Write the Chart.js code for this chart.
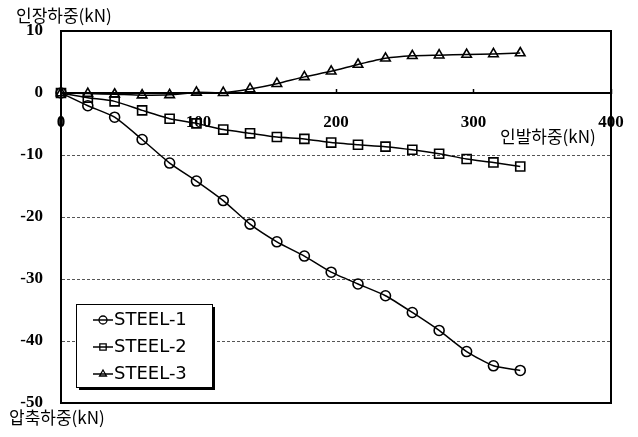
<!DOCTYPE html>
<html>
<head>
<meta charset="utf-8">
<script src="https://cdn.jsdelivr.net/npm/chart.js@4.4.1/dist/chart.umd.min.js"></script>
<style>
  html, body { margin: 0; padding: 0; background: #fff; }
  #wrap { width: 638px; height: 437px; }
</style>
</head>
<body>
<div id="wrap"><canvas id="chart" width="638" height="437"></canvas></div>
<script>
// Data
var loadKN = [0, 19.5, 39, 59, 79, 98.5, 118, 137.5, 157, 177, 196.5, 216, 236, 255.5, 275, 295, 314.5, 334];
var steel1 = [0, -2.05, -3.9, -7.5, -11.3, -14.2, -17.35, -21.15, -24.0, -26.3, -28.9, -30.8, -32.7, -35.4, -38.3, -41.7, -44.0, -44.75];
var steel2 = [0, -0.75, -1.35, -2.8, -4.15, -4.9, -5.9, -6.5, -7.1, -7.4, -8.0, -8.35, -8.65, -9.15, -9.8, -10.65, -11.2, -11.85];
var steel3 = [0, -0.1, -0.2, -0.35, -0.3, 0.1, 0.05, 0.65, 1.5, 2.6, 3.5, 4.6, 5.6, 6.0, 6.1, 6.2, 6.3, 6.45];
var seriesNames = ['STEEL-1', 'STEEL-2', 'STEEL-3'];
var xTicks = [0, 100, 200, 300, 400];
var yTicks = [10, 0, -10, -20, -30, -40, -50];
var xTitle = '인발하중(kN)';
var yTopTitle = '인장하중(kN)';
var yBottomTitle = '압축하중(kN)';

var tickFont = { family: '"Liberation Serif", "Times New Roman", serif', size: 17, weight: 'bold' };

function toPoints(ys) {
    return ys.map(function (v, i) { return { x: loadKN[i], y: v }; });
}

function makeSet(name, ys, style, radius) {
    return {
        label: name,
        data: toPoints(ys),
        showLine: true,
        borderColor: '#000',
        borderWidth: 1.5,
        tension: 0.2,
        pointStyle: style,
        pointRadius: radius,
        pointBorderWidth: 1.6,
        pointBorderColor: '#000',
        pointBackgroundColor: 'rgba(0,0,0,0)',
        clip: false
    };
}

// frame, axis titles and boxed legend
var decor = {
    id: 'decor',
    afterDraw: function (chart) {
        var ctx = chart.ctx, a = chart.chartArea;
        ctx.save();
        ctx.strokeStyle = '#000';
        ctx.lineWidth = 2;
        ctx.strokeRect(a.left, a.top, a.right - a.left, a.bottom - a.top);

        ctx.fillStyle = '#000';
        ctx.textAlign = 'left';
        ctx.textBaseline = 'middle';
        ctx.font = '17px "Noto Sans CJK KR"';
        ctx.fillText(yTopTitle, 16, 16);
        ctx.fillText(yBottomTitle, 9, 418);
        ctx.fillText(xTitle, 500, 137);

        var lx = 76, ly = 304, lw = 136, lh = 83;
        ctx.fillRect(lx + 3, ly + 3, lw, lh);
        ctx.fillStyle = '#fff';
        ctx.fillRect(lx, ly, lw, lh);
        ctx.lineWidth = 1;
        ctx.strokeRect(lx + 0.5, ly + 0.5, lw, lh);

        ctx.font = '18px "DejaVu Sans"';
        chart.data.datasets.forEach(function (ds, i) {
            var y = ly + 16 + i * 27;
            ctx.strokeStyle = '#000';
            ctx.lineWidth = 1.5;
            ctx.beginPath();
            ctx.moveTo(lx + 17, y);
            ctx.lineTo(lx + 37, y);
            ctx.stroke();
            ctx.fillStyle = 'rgba(0,0,0,0)';
            ctx.lineWidth = 1.3;
            Chart.helpers.drawPoint(ctx, { pointStyle: ds.pointStyle, radius: ds.pointStyle === 'rect' ? 4.5 : 4, borderWidth: 1.3, rotation: 0 }, lx + 27, y);
            ctx.fillStyle = '#000';
            ctx.fillText(ds.label, lx + 38, y);
        });
        ctx.restore();
    }
};

new Chart(document.getElementById('chart'), {
    type: 'scatter',
    data: {
        datasets: [
            makeSet(seriesNames[0], steel1, 'circle', 5),
            makeSet(seriesNames[1], steel2, 'rect', 6.4),
            makeSet(seriesNames[2], steel3, 'triangle', 5.5)
        ]
    },
    options: {
        responsive: false,
        animation: false,
        layout: { padding: { top: 31, right: 27, bottom: 34, left: 0 } },
        plugins: {
            legend: { display: false },
            tooltip: { enabled: false }
        },
        scales: {
            x: {
                type: 'linear',
                position: { y: 0 },
                min: 0,
                max: 400,
                afterBuildTicks: function (s) { s.ticks = xTicks.map(function (v) { return { value: v }; }); },
                afterFit: function (s) { s.paddingLeft = 0; s.paddingRight = 0; },
                border: { display: true, color: '#000', width: 2 },
                grid: { drawOnChartArea: false, drawTicks: true, tickLength: -5, tickColor: '#000', tickWidth: 1.5 },
                ticks: { color: '#000', font: tickFont, padding: 24, maxRotation: 0 }
            },
            y: {
                type: 'linear',
                min: -50,
                max: 10,
                afterBuildTicks: function (s) { s.ticks = yTicks.map(function (v) { return { value: v }; }); },
                afterFit: function (s) { s.width = 61; s.paddingTop = 0; s.paddingBottom = 0; },
                border: { display: true, color: '#000', width: 2, dash: [3, 2] },
                grid: {
                    drawTicks: false,
                    lineWidth: 1,
                    color: function (c) {
                        var v = c.tick && c.tick.value;
                        return (v === 10 || v === 0 || v === -50) ? 'rgba(0,0,0,0)' : '#555';
                    }
                },
                ticks: { color: '#000', font: tickFont, padding: 18 }
            }
        }
    },
    plugins: [decor]
});
</script>
</body>
</html>
